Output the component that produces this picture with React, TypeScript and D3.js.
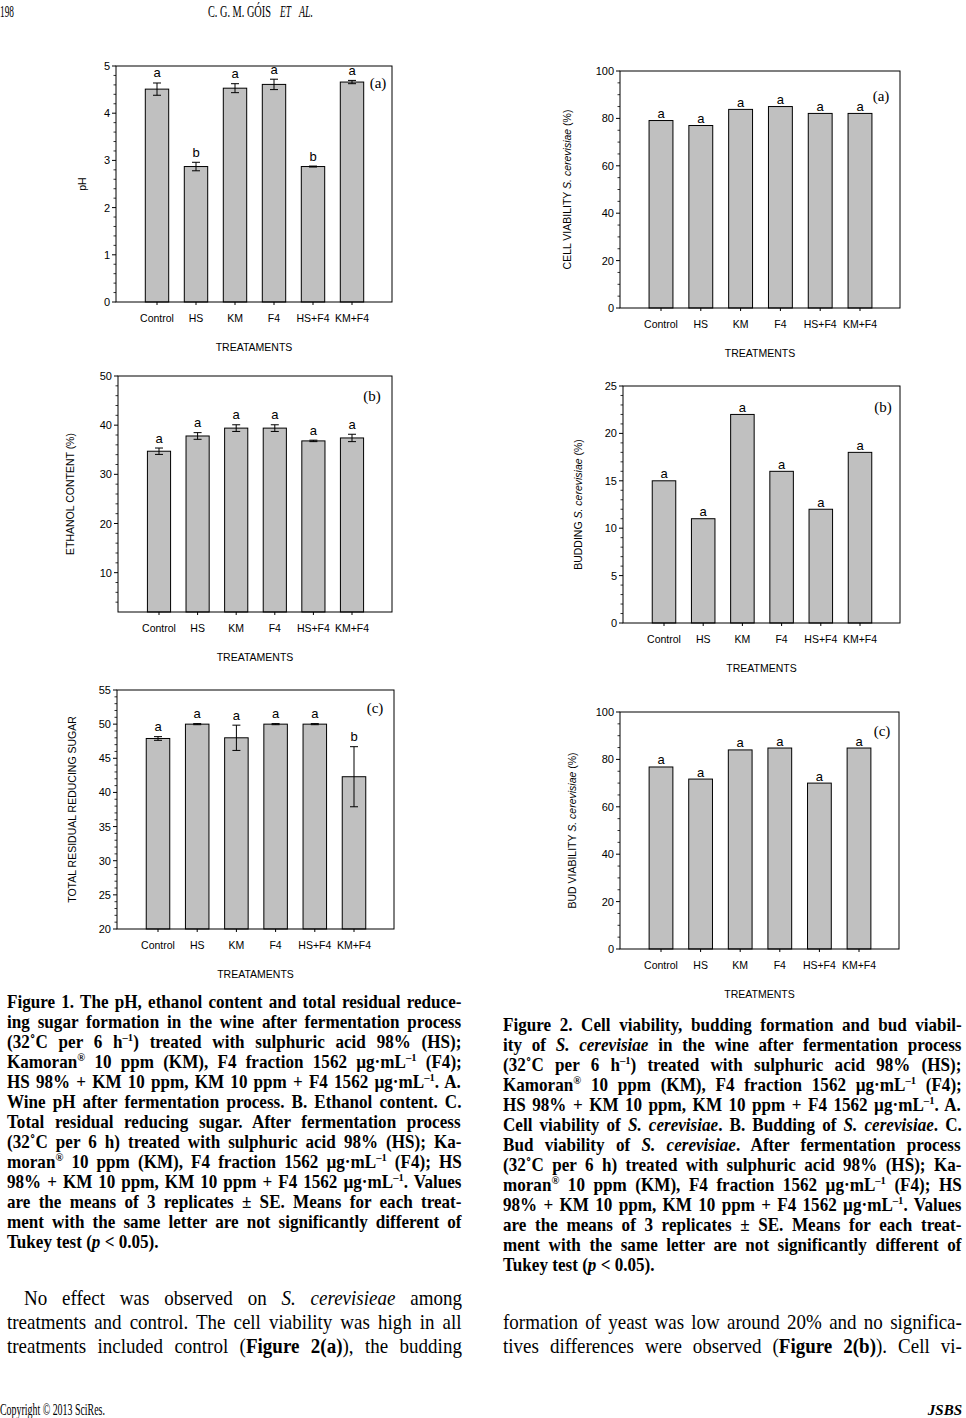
import React from "react";
import * as d3 from "d3";

// ---------- DATA ----------
const categories = ["Control", "HS", "KM", "F4", "HS+F4", "KM+F4"];

const phValues = [4.51, 2.87, 4.53, 4.61, 2.87, 4.66];
const phErrors = [0.13, 0.09, 0.095, 0.11, 0.01, 0.035];
const phLetters = ["a", "b", "a", "a", "b", "a"];
const phTicks = [0, 1, 2, 3, 4, 5];

const ethanolValues = [34.7, 37.8, 39.4, 39.4, 36.8, 37.4];
const ethanolErrors = [0.65, 0.68, 0.68, 0.68, 0.15, 0.75];
const ethanolLetters = ["a", "a", "a", "a", "a", "a"];
const ethanolTicks = [10, 20, 30, 40, 50];

const sugarValues = [47.9, 50.0, 48.0, 50.0, 50.0, 42.3];
const sugarErrors = [0.27, 0.08, 1.85, 0.08, 0.08, 4.4];
const sugarLetters = ["a", "a", "a", "a", "a", "b"];
const sugarTicks = [20, 25, 30, 35, 40, 45, 50, 55];

const viabilityValues = [79.1, 77.0, 83.8, 85.0, 82.1, 82.1];
const viabilityLetters = ["a", "a", "a", "a", "a", "a"];
const viabilityTicks = [0, 20, 40, 60, 80, 100];

const buddingValues = [15, 11, 22, 16, 12, 18];
const buddingLetters = ["a", "a", "a", "a", "a", "a"];
const buddingTicks = [0, 5, 10, 15, 20, 25];

const budViabilityValues = [76.8, 71.7, 84.0, 84.8, 70.0, 84.8];
const budViabilityLetters = ["a", "a", "a", "a", "a", "a"];
const budViabilityTicks = [0, 20, 40, 60, 80, 100];

const fig1Caption = [
  "Figure 1. The pH, ethanol content and total residual reduce-",
  "ing sugar formation in the wine after fermentation process",
  "(32˚C per 6 h^{–1}) treated with sulphuric acid 98% (HS);",
  "Kamoran^{®} 10 ppm (KM), F4 fraction 1562 µg·mL^{–1} (F4);",
  "HS 98% + KM 10 ppm, KM 10 ppm + F4 1562 µg·mL^{–1}. A.",
  "Wine pH after fermentation process. B. Ethanol content. C.",
  "Total residual reducing sugar. After fermentation process",
  "(32˚C per 6 h) treated with sulphuric acid 98% (HS); Ka-",
  "moran^{®} 10 ppm (KM), F4 fraction 1562 µg·mL^{–1} (F4); HS",
  "98% + KM 10 ppm, KM 10 ppm + F4 1562 µg·mL^{–1}. Values",
  "are the means of 3 replicates ± SE. Means for each treat-",
  "ment with the same letter are not significantly different of",
  "Tukey test (_{p} < 0.05).",
];

const fig2Caption = [
  "Figure 2. Cell viability, budding formation and bud viabil-",
  "ity of _{S. cerevisiae} in the wine after fermentation process",
  "(32˚C per 6 h^{–1}) treated with sulphuric acid 98% (HS);",
  "Kamoran^{®} 10 ppm (KM), F4 fraction 1562 µg·mL^{–1} (F4);",
  "HS 98% + KM 10 ppm, KM 10 ppm + F4 1562 µg·mL^{–1}. A.",
  "Cell viability of _{S. cerevisiae}. B. Budding of _{S. cerevisiae}. C.",
  "Bud viability of _{S. cerevisiae}. After fermentation process",
  "(32˚C per 6 h) treated with sulphuric acid 98% (HS); Ka-",
  "moran^{®} 10 ppm (KM), F4 fraction 1562 µg·mL^{–1} (F4); HS",
  "98% + KM 10 ppm, KM 10 ppm + F4 1562 µg·mL^{–1}. Values",
  "are the means of 3 replicates ± SE. Means for each treat-",
  "ment with the same letter are not significantly different of",
  "Tukey test (_{p} < 0.05).",
];

const bodyLeft = [
  "No effect was observed on _{S. cerevisieae} among",
  "treatments and control. The cell viability was high in all",
  "treatments included control (*{Figure 2(a)}), the budding",
];
const bodyRight = [
  "formation of yeast was low around 20% and no significa-",
  "tives differences were observed (*{Figure 2(b)}). Cell vi-",
];

// ---------- LAYOUT ----------
const SANS = "'Liberation Sans', Arial, sans-serif";
const SERIF = "'Liberation Serif', 'Times New Roman', serif";

type Spec = {
  L: number; R: number; T: number; B: number;
  domain: [number, number];
  ticks: number[];
  minorStep: number;
  values: number[];
  errors?: number[];
  letters: string[];
  yTitle: string;
  xTitle: string;
  titleX: number;
  panel: string;
  panelX: number;
  panelY: number;
};

const specs: Spec[] = [
  { L: 116, R: 392, T: 66, B: 302, domain: [0, 5], ticks: phTicks, minorStep: 0.2,
    values: phValues, errors: phErrors, letters: phLetters, yTitle: "pH",
    xTitle: "TREATAMENTS", titleX: 85.5, panel: "(a)", panelX: 378, panelY: 83 },
  { L: 118, R: 392, T: 376, B: 612, domain: [2, 50], ticks: ethanolTicks, minorStep: 2,
    values: ethanolValues, errors: ethanolErrors, letters: ethanolLetters,
    yTitle: "ETHANOL CONTENT (%)", xTitle: "TREATAMENTS", titleX: 74,
    panel: "(b)", panelX: 372, panelY: 396 },
  { L: 117, R: 394, T: 690, B: 929, domain: [20, 55], ticks: sugarTicks, minorStep: 1,
    values: sugarValues, errors: sugarErrors, letters: sugarLetters,
    yTitle: "TOTAL RESIDUAL REDUCING SUGAR", xTitle: "TREATAMENTS", titleX: 75.5,
    panel: "(c)", panelX: 375, panelY: 708 },
  { L: 620, R: 900, T: 71, B: 308, domain: [0, 100], ticks: viabilityTicks, minorStep: 5,
    values: viabilityValues, letters: viabilityLetters,
    yTitle: "CELL VIABILITY _{S. cerevisiae} (%)", xTitle: "TREATMENTS", titleX: 570.5,
    panel: "(a)", panelX: 881, panelY: 96 },
  { L: 623, R: 900, T: 386, B: 623, domain: [0, 25], ticks: buddingTicks, minorStep: 1,
    values: buddingValues, letters: buddingLetters,
    yTitle: "BUDDING _{S. cerevisiae} (%)", xTitle: "TREATMENTS", titleX: 582,
    panel: "(b)", panelX: 883, panelY: 407 },
  { L: 620, R: 899, T: 712, B: 949, domain: [0, 100], ticks: budViabilityTicks, minorStep: 5,
    values: budViabilityValues, letters: budViabilityLetters,
    yTitle: "BUD VIABILITY _{S. cerevisiae} (%)", xTitle: "TREATMENTS", titleX: 575.5,
    panel: "(c)", panelX: 882, panelY: 731 },
];

// ---------- TEXT MEASURING ----------
let measureCtx: CanvasRenderingContext2D | null = null;
function measure(text: string, size: number, bold: boolean, italic: boolean, family: string) {
  if (typeof document === "undefined") return text.length * size * 0.45;
  if (!measureCtx) {
    const c = document.createElement("canvas");
    measureCtx = c.getContext("2d");
  }
  if (!measureCtx) return text.length * size * 0.45;
  measureCtx.font = `${italic ? "italic " : ""}${bold ? "bold " : ""}${size}px ${family}`;
  return measureCtx.measureText(text).width;
}

type Part = { content: string; sup: boolean; italic: boolean; bold: boolean };

function parse(text: string): Part[] {
  const parts = text.split(/(\^\{[^}]*\}|_\{[^}]*\}|\*\{[^}]*\})/).filter((p) => p.length > 0);
  return parts.map((p) => {
    if (p.startsWith("^{")) return { content: p.slice(2, -1), sup: true, italic: false, bold: false };
    if (p.startsWith("_{")) return { content: p.slice(2, -1), sup: false, italic: true, bold: false };
    if (p.startsWith("*{")) return { content: p.slice(2, -1), sup: false, italic: false, bold: true };
    return { content: p, sup: false, italic: false, bold: false };
  });
}

function RichLine(props: {
  x: number; y: number; text: string; size: number; bold?: boolean;
  width?: number; family?: string; anchor?: string; sx?: number;
}) {
  const { x, y, text, size, bold, width, family, anchor } = props;
  const sx = props.sx || 1;
  const fam = family || SERIF;
  const parts = parse(text);
  let cur = 0;
  let natural = 0;
  let spaces = 0;
  const kids = parts.map((p, i) => {
    const target = p.sup ? -Math.round(size * 0.38) : 0;
    const fs = p.sup ? size * 0.62 : size;
    natural += measure(p.content, fs, !!bold || p.bold, p.italic, fam);
    spaces += (p.content.match(/ /g) || []).length;
    const dy = target - cur;
    cur = target;
    return (
      <tspan
        key={i}
        dy={dy !== 0 ? dy : undefined}
        fontStyle={p.italic ? "italic" : undefined}
        fontWeight={p.bold ? "bold" : undefined}
        fontSize={p.sup ? fs : undefined}
      >
        {p.content}
      </tspan>
    );
  });
  let wordSpacing: number | undefined = undefined;
  let textLength: number | undefined = undefined;
  if (width) {
    const w = width / sx;
    const extra = w - natural;
    if (extra >= 0 && spaces > 0) wordSpacing = extra / spaces;
    else textLength = w;
  }
  return (
    <g transform={`translate(${x},${y}) scale(${sx},1)`}>
      <text
        x={0}
        y={0}
        fontFamily={fam}
        fontSize={size}
        fontWeight={bold ? "bold" : "normal"}
        textAnchor={anchor || "start"}
        textLength={textLength}
        lengthAdjust={textLength ? "spacingAndGlyphs" : undefined}
        style={wordSpacing !== undefined ? { wordSpacing: `${wordSpacing}px` } : undefined}
        fill="#000"
      >
        {kids}
      </text>
    </g>
  );
}

function Condensed(props: {
  x: number; y: number; text: string; size: number; width: number;
  italic?: boolean; bold?: boolean; anchor?: string;
}) {
  const { x, y, text, size, width, italic, bold, anchor } = props;
  const nat = measure(text, size, !!bold, !!italic, SERIF);
  const s = width / nat;
  return (
    <g transform={`translate(${x},${y}) scale(${s},1)`}>
      <text
        x={0}
        y={0}
        fontFamily={SERIF}
        fontSize={size}
        fontStyle={italic ? "italic" : undefined}
        fontWeight={bold ? "bold" : undefined}
        textAnchor={anchor || "start"}
      >
        {text}
      </text>
    </g>
  );
}

// ---------- CHART ----------
function BarChart({ spec }: { spec: Spec }) {
  const { L, R, T, B, domain, ticks, minorStep, values, errors, letters } = spec;
  const y = d3.scaleLinear().domain(domain).range([B, T]);
  const x = d3.scalePoint<string>().domain(categories).range([L + 41, R - 40]);
  const step = x.step();
  const bw = step * 0.6;
  const minor = d3
    .range(domain[0], domain[1] + 1e-9, minorStep)
    .filter((v) => v > domain[0] + 1e-9 && !ticks.some((t) => Math.abs(t - v) < 1e-6));
  const midY = (T + B) / 2;

  return (
    <g>
      {categories.map((c, i) => {
        const v = values[i];
        const cx = x(c) as number;
        const e = errors ? errors[i] : 0;
        const topY = y(v + e);
        return (
          <g key={c}>
            <rect x={cx - bw / 2} y={y(v)} width={bw} height={B - y(v)} fill="#c0c0c0" stroke="#000" strokeWidth={1} />
            {errors && (
              <g stroke="#000" strokeWidth={1}>
                <line x1={cx} x2={cx} y1={y(v + e)} y2={y(v - e)} />
                <line x1={cx - 4} x2={cx + 4} y1={y(v + e)} y2={y(v + e)} />
                <line x1={cx - 4} x2={cx + 4} y1={y(v - e)} y2={y(v - e)} />
              </g>
            )}
            <text x={cx} y={topY - (errors ? 5.5 : 2.5)} textAnchor="middle" fontFamily={SANS} fontSize={13}>
              {letters[i]}
            </text>
            <line x1={cx} x2={cx} y1={B} y2={B + 3} stroke="#000" strokeWidth={1} />
            <text x={cx} y={B + 20} textAnchor="middle" fontFamily={SANS} fontSize={10.5}>
              {c}
            </text>
          </g>
        );
      })}
      <rect x={L} y={T} width={R - L} height={B - T} fill="none" stroke="#000" strokeWidth={1} />
      {ticks.map((t) => (
        <g key={"t" + t}>
          <line x1={L - 4} x2={L} y1={y(t)} y2={y(t)} stroke="#000" strokeWidth={1} />
          <text x={L - 6} y={y(t) + 4} textAnchor="end" fontFamily={SANS} fontSize={11}>
            {t}
          </text>
        </g>
      ))}
      {minor.map((t) => (
        <line key={"m" + t} x1={L - 2.5} x2={L} y1={y(t)} y2={y(t)} stroke="#000" strokeWidth={0.8} />
      ))}
      <text x={(L + R) / 2} y={B + 48.5} textAnchor="middle" fontFamily={SANS} fontSize={10.5}>
        {spec.xTitle}
      </text>
      <g transform={`translate(${spec.titleX},${midY}) rotate(-90)`}>
        <RichLine x={0} y={0} text={spec.yTitle} size={10.5} family={SANS} anchor="middle" />
      </g>
      <text x={spec.panelX} y={spec.panelY + 4.5} textAnchor="middle" fontFamily={SERIF} fontSize={15}>
        {spec.panel}
      </text>
    </g>
  );
}

export default function App() {
  return (
    <svg
      width={966}
      height={1418}
      viewBox="0 0 966 1418"
      style={{ position: "absolute", left: 0, top: 0, display: "block", background: "#fff" }}
    >
      <rect x={0} y={0} width={966} height={1418} fill="#fff" />
      {/* Header */}
      <Condensed x={0} y={17} text="198" size={16} width={14} />
      <Condensed x={208} y={17} text="C. G. M. GÓIS" size={16} width={63} />
      <Condensed x={280} y={17} text="ET" size={16} width={11} italic />
      <Condensed x={299} y={17} text="AL." size={16} width={14} italic />

      {specs.map((s, i) => (
        <BarChart key={i} spec={s} />
      ))}

      {/* Figure 1 caption */}
      {fig1Caption.map((line, i) => (
        <RichLine
          key={"f1" + i}
          x={7}
          y={1008 + i * 20}
          text={line}
          size={18}
          sx={0.95}
          bold
          width={i < fig1Caption.length - 1 ? 455 : undefined}
        />
      ))}
      {/* Figure 2 caption */}
      {fig2Caption.map((line, i) => (
        <RichLine
          key={"f2" + i}
          x={503}
          y={1031 + i * 20}
          text={line}
          size={18}
          sx={0.95}
          bold
          width={i < fig2Caption.length - 1 ? 459 : undefined}
        />
      ))}

      {/* Body text */}
      {bodyLeft.map((line, i) => (
        <RichLine
          key={"bl" + i}
          x={i === 0 ? 24 : 7}
          y={1305 + i * 24}
          text={line}
          size={20}
          sx={0.95}
          width={i === 0 ? 438 : 455}
        />
      ))}
      {bodyRight.map((line, i) => (
        <RichLine key={"br" + i} x={503} y={1329 + i * 24} text={line} size={20} sx={0.95} width={459} />
      ))}

      {/* Footer */}
      <Condensed x={0} y={1415} text="Copyright © 2013 SciRes." size={16} width={105} />
      <text x={962} y={1415} fontFamily={SERIF} fontSize={15} fontWeight="bold" fontStyle="italic" textAnchor="end">
        JSBS
      </text>
    </svg>
  );
}
